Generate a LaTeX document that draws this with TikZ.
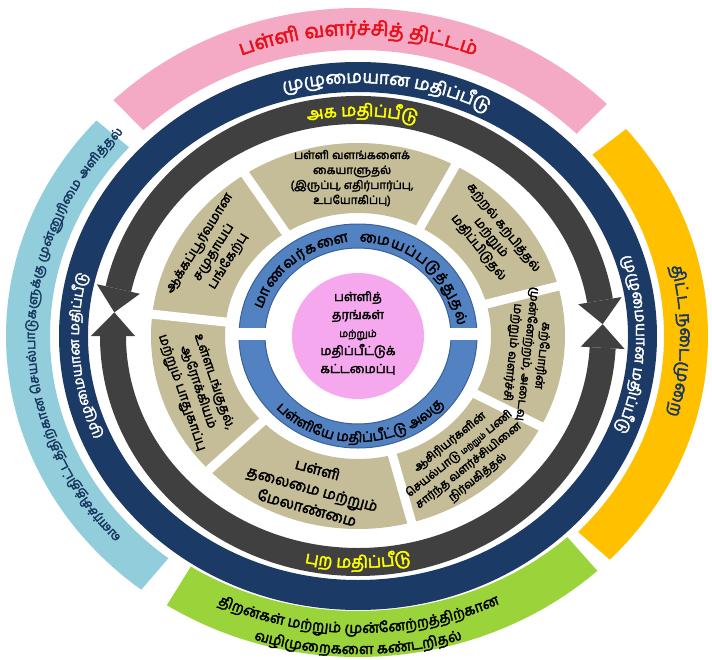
\documentclass[tikz,border=0pt]{standalone}
\usepackage{fontspec}
\usetikzlibrary{shapes.geometric}
\newfontfamily\tam[Script=Tamil,FakeBold=2.6]{Hind Madurai}
\definecolor{navyring}{HTML}{1B3A66}
\definecolor{darkring}{HTML}{404040}
\definecolor{beige}{HTML}{C4BD97}
\definecolor{ringblue}{HTML}{5282C2}
\definecolor{ringblueedge}{HTML}{3A6199}
\definecolor{centerpink}{HTML}{F5A8EE}
\definecolor{arcpink}{HTML}{F4AAC4}
\definecolor{arcblue}{HTML}{92CDDC}
\definecolor{arcyellow}{HTML}{FFC000}
\definecolor{arcgreen}{HTML}{9BD43A}
\definecolor{textred}{HTML}{E8101A}
\definecolor{textnavy}{HTML}{17375E}
\definecolor{textyellow}{HTML}{FFFF00}

\newsavebox\ATbox
% #1 rx, #2 ry (baseline), #3 mid angle, #4 dir (1 = clockwise, -1 = counter), #5 font, #6 extra space, #7 name, #8 clusters
\newcommand\arctext[8]{%
  \gdef\ATtot{0}%
  \foreach \cl in {#8}{%
    \pgfinterruptpicture\sbox\ATbox{#5\cl}\xdef\ATwv{\the\wd\ATbox}\endpgfinterruptpicture
    \pgfmathsetmacro\ATt{\ATtot+\ATwv+#6}\global\let\ATtot\ATt}%
  \pgfmathsetmacro\ATsp{#1*sqrt(sin(#3)*sin(#3)+(#2/#1)*(#2/#1)*cos(#3)*cos(#3))}%
  \pgfmathsetmacro\ATc{#3+(#4)*0.5*\ATtot/\ATsp*180/pi}%
  \global\let\ATcur\ATc
  \foreach \cl [count=\ci] in {#8}{%
    \pgfinterruptpicture\sbox\ATbox{#5\cl}\xdef\ATwv{\the\wd\ATbox}\endpgfinterruptpicture
    \pgfmathsetmacro\ATsp{#1*sqrt(sin(\ATcur)*sin(\ATcur)+(#2/#1)*(#2/#1)*cos(\ATcur)*cos(\ATcur))}%
    \pgfmathsetmacro\ATa{\ATcur-(#4)*(0.5*\ATwv+0.5*#6)/\ATsp*180/pi}%
    \ifnum#4>0
      \pgfmathsetmacro\ATr{atan2(-#2*cos(\ATa),#1*sin(\ATa))}%
    \else
      \pgfmathsetmacro\ATr{atan2(#2*cos(\ATa),-#1*sin(\ATa))}%
    \fi
    \node[anchor=base,inner sep=0pt,outer sep=0pt,rotate=\ATr] (#7-\ci) at (\ATa:#1pt and #2pt) {#5\cl};
    \pgfmathsetmacro\ATn{\ATcur-(#4)*(\ATwv+#6)/\ATsp*180/pi}%
    \global\let\ATcur\ATn
  }%
}
% filled elliptic annular sector: colour, a1, a2, rxo, ryo, rxi, ryi
\newcommand\annsector[7]{%
  \fill[#1] (#2:#4pt and #5pt) arc[start angle=#2,end angle=#3,x radius=#4pt,y radius=#5pt]
    -- (#3:#6pt and #7pt) arc[start angle=#3,end angle=#2,x radius=#6pt,y radius=#7pt] -- cycle;}

\tikzset{
  segtext/.style={align=center,inner sep=0pt,font=\tam\fontsize{11.5}{15}\selectfont,text=black},
  darktip/.style={fill=darkring}
}

\begin{document}
\begin{tikzpicture}
\fill[white] (-358pt,-323pt) rectangle (354pt,336pt);
\useasboundingbox (-358pt,-323pt) rectangle (354pt,336pt);

% outer coloured arcs
\annsector{arcpink}{45}{134}{352}{328}{309}{286}
\annsector{arcblue}{138}{232}{352}{322}{308}{282}
\annsector{arcgreen}{237}{313}{351}{321}{307}{275}
\annsector{arcyellow}{-44}{40}{350}{322}{306}{282}

% navy ring
\fill[navyring,even odd rule] (0,0) ellipse[x radius=299pt,y radius=274pt] (0,0) ellipse[x radius=270pt,y radius=244pt];

% dark ring with arrow heads
\annsector{darkring}{9}{168}{258}{240}{232}{212}
\annsector{darkring}{180}{357}{258}{240}{232}{212}
\fill[darktip] (168:267pt and 249pt) -- (174:245pt and 226pt) -- (168:223pt and 203pt) -- cycle;
\fill[darktip] (180:267pt and 249pt) -- (174:245pt and 226pt) -- (180:223pt and 203pt) -- cycle;
\fill[darktip] (9:267pt and 249pt) -- (3:245pt and 226pt) -- (9:223pt and 203pt) -- cycle;
\fill[darktip] (-3:267pt and 249pt) -- (3:245pt and 226pt) -- (-3:223pt and 203pt) -- cycle;

% beige ring with gaps
\fill[beige,even odd rule] (0,0) ellipse[x radius=207pt,y radius=193pt] (0,0) ellipse[x radius=133pt,y radius=123pt];
\foreach \g in {62,15,-28,-75,-136,173.5,123}
  \draw[white,line width=9pt] (\g:125pt and 116pt) -- (\g:215pt and 200pt);

% blue ring
\fill[ringblue,even odd rule,draw=ringblueedge,line width=1pt] (0,0) ellipse[x radius=119pt,y radius=112pt] (0,0) ellipse[x radius=93pt,y radius=88pt];
\fill[white] (-125pt,-4pt) rectangle (125pt,8pt);

% centre
\node[ellipse,fill=centerpink,minimum width=132pt,minimum height=126pt,inner sep=0pt] (centre) at (0,0) {};
\node[align=center,inner sep=0pt,font=\tam\fontsize{12.5}{18}\selectfont] (centretext) at (0,3pt)
  {பள்ளித்\\தரங்கள்\\{\fontsize{10}{18}\selectfont மற்றும்}\\மதிப்பீட்டுக்\\கட்டமைப்பு};

% arc texts
\arctext{321}{301}{90}{1}{\tam\fontsize{20}{20}\selectfont\color{textred}}{0}{pinkt}{ப,ள்,ளி,~,வ,ள,ர்,ச்,சி,த்,~,தி,ட்,ட,ம்}
\arctext{323}{296}{179}{1}{\tam\fontsize{13}{13}\selectfont\color{textnavy}}{0}{bluet}{வ,ள,ர்,ச்,சி,த்,தி,ட்,ட,த்,தி,ற்,கா,ன,~,செ,ய,ல்,பா,டு,க,ளு,க்,கு,~,மு,ன்,னு,ரி,மை,~,அ,ளி,த்,த,ல்}
\arctext{322}{296}{-1}{1}{\tam\fontsize{17}{17}\selectfont\color{textnavy}}{0}{yelt}{தி,ட்,ட,~,ந,டை,மு,றை}
\arctext{327}{297}{270}{-1}{\tam\fontsize{14.5}{14.5}\selectfont\color{black}}{0}{grna}{தி,ற,ன்,க,ள்,~,ம,ற்,று,ம்,~,மு,ன்,னே,ற்,ற,த்,தி,ற்,கா,ன}
\arctext{348}{318}{270}{-1}{\tam\fontsize{14.5}{14.5}\selectfont\color{black}}{0}{grnb}{வ,ழி,மு,றை,க,ளை,~,க,ண்,ட,றி,த,ல்}

\arctext{278}{253}{84}{1}{\tam\fontsize{17.5}{17.5}\selectfont\color{white}}{0}{navt}{மு,ழு,மை,யா,ன,~,ம,தி,ப்,பீ,டு}
\arctext{279}{254}{184.5}{1}{\tam\fontsize{14}{14}\selectfont\color{white}}{0}{navl}{மு,ழு,மை,யா,ன,~,ம,தி,ப்,பீ,டு}
\arctext{278}{253}{-2}{1}{\tam\fontsize{15}{15}\selectfont\color{white}}{0}{navr}{மு,ழு,மை,யா,ன,~,ம,தி,ப்,பீ,டு}

\arctext{239}{220}{89}{1}{\tam\fontsize{17}{17}\selectfont\color{textyellow}}{0}{akat}{அ,க,~,ம,தி,ப்,பீ,டு}
\arctext{251}{232}{270}{-1}{\tam\fontsize{17}{17}\selectfont\color{textyellow}}{0}{purt}{பு,ற,~,ம,தி,ப்,பீ,டு}

\arctext{100}{94}{87}{1}{\tam\fontsize{14.5}{14.5}\selectfont\color{black}}{1.0}{mant}{மா,ண,வ,ர்,க,ளை,~,~,மை,ய,ப்,ப,டு,த்,து,த,ல்}
\arctext{112}{106}{271}{-1}{\tam\fontsize{14}{14}\selectfont\color{black}}{0}{alat}{ப,ள்,ளி,யே,~,ம,தி,ப்,பீ,ட்,டு,~,அ,ல,கு}

% segment texts
\node[segtext] (seg1) at (92:170pt and 158pt) {பள்ளி வளங்களைக்\\கையாளுதல்\\(இருப்பு, எதிர்பார்ப்பு,\\உபயோகிப்பு)};
\node[segtext,rotate=-51.5,font=\tam\fontsize{12.5}{16}\selectfont] (seg2) at (38.5:170pt and 158pt) {கற்றல் கற்பித்தல்\\மற்றும்\\மதிப்பிடுதல்};
\node[segtext,rotate=-96.5,font=\tam\fontsize{12}{15}\selectfont] (seg3) at (-6.5:170pt and 158pt) {கற்போரின்\\முன்னேற்றம், அடைவு\\மற்றும் வளர்ச்சி};
\node[segtext,rotate=38.5] (seg4) at (-51.5:170pt and 158pt) {ஆசிரியர்களின்\\செயல்பாடு {\fontsize{8}{15}\selectfont மற்றும்} பணி\\சார்ந்த வளர்ச்சியினை\\நிர்வகித்தல்};
\node[segtext,rotate=-15.5,font=\tam\fontsize{15}{20}\selectfont] (seg5) at (-105.5:170pt and 158pt) {பள்ளி\\தலைமை மற்றும்\\மேலாண்மை};
\node[segtext,rotate=-71,font=\tam\fontsize{13}{17}\selectfont] (seg6) at (199:170pt and 158pt) {உள்ளடங்குதல்,\\ஆரோக்கியம்\\மற்றும் பாதுகாப்பு};
\node[segtext,rotate=58,font=\tam\fontsize{13}{17}\selectfont] (seg7) at (148:170pt and 158pt) {ஆக்கப்பூர்வமான\\சமுதாயப்\\பங்கேற்பு};
\end{tikzpicture}
\end{document}
